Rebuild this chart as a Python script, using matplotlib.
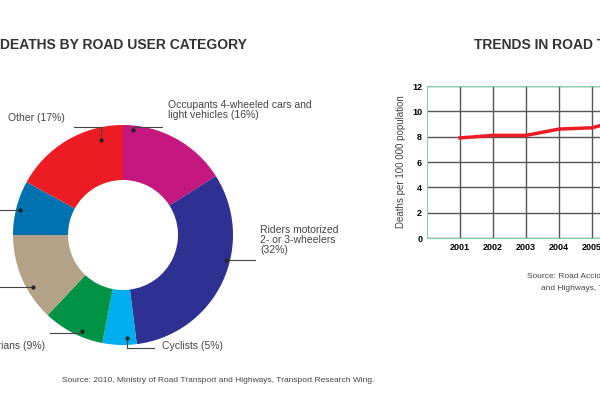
import matplotlib
matplotlib.use("Agg")
import matplotlib.pyplot as plt

plt.rcParams['font.family'] = ['Liberation Sans', 'DejaVu Sans']

# Pie data (clockwise from top)
categories = ["Occupants 4-wheeled cars and\nlight vehicles (16%)", "Riders motorized\n2- or 3-wheelers\n(32%)",
              "Cyclists (5%)", "Pedestrians (9%)", "Heavy vehicles (13%)", "Buses (8%)", "Other (17%)"]
shares = [16, 32, 5, 9, 13, 8, 17]
colors = ["#c4177f", "#2e3192", "#00aeef", "#009245", "#b3a288", "#0072b0", "#ed1c24"]

# Line data
years = [2001, 2002, 2003, 2004, 2005, 2006]
rates = [7.9, 8.1, 8.1, 8.6, 8.7, 9.4]
yticks = [0, 2, 4, 6, 8, 10, 12]

W, H = 600, 400
fig = plt.figure(figsize=(6, 4), dpi=100)
fig.patch.set_facecolor("white")

def fx(x): return x / W
def fy(y): return 1 - y / H

# Pie
axp = fig.add_axes([fx(-14.5), fy(372.5), 275 / W, 275 / H])
axp.pie(shares, colors=colors, startangle=90, counterclock=False,
        wedgeprops=dict(width=0.5, edgecolor="white", linewidth=0))
axp.set_aspect("equal")

fig.text(fx(0), fy(45), "DEATHS BY ROAD USER CATEGORY", fontsize=10, fontweight="bold",
         color="#333333", va="center", ha="left")
fig.text(fx(474), fy(45), "TRENDS IN ROAD TRAFFIC DEATHS", fontsize=10, fontweight="bold",
         color="#333333", va="center", ha="left")

tc = "#444444"
def leader(pts):
    xs = [fx(p[0]) for p in pts]; ys = [fy(p[1]) for p in pts]
    fig.add_artist(plt.Line2D(xs, ys, transform=fig.transFigure, color="#444444", lw=0.8))
    fig.add_artist(plt.Line2D([xs[0]], [ys[0]], transform=fig.transFigure, marker="o",
                              ms=2, color="#222222", lw=0))

fs = 7.5
fig.text(fx(168), fy(110), categories[0], fontsize=fs, color=tc, va="center", ha="left", linespacing=1.0)
leader([(133, 130), (133, 127), (162, 127)])
fig.text(fx(8), fy(118), categories[6], fontsize=fs, color=tc, va="center", ha="left")
leader([(101, 140), (101, 127), (74, 127)])
fig.text(fx(260), fy(240), categories[1], fontsize=fs, color=tc, va="center", ha="left", linespacing=1.0)
leader([(226, 260), (255, 260)])
fig.text(fx(162), fy(346), categories[2], fontsize=fs, color=tc, va="center", ha="left")
leader([(127, 338), (127, 348), (154, 348)])
fig.text(fx(45), fy(346), categories[3], fontsize=fs, color=tc, va="center", ha="right")
leader([(82, 331), (82, 333), (50, 333)])
fig.text(fx(-5), fy(287), categories[4], fontsize=fs, color=tc, va="center", ha="right")
leader([(33, 287), (0, 287)])
fig.text(fx(-5), fy(210), categories[5], fontsize=fs, color=tc, va="center", ha="right")
leader([(20, 210), (0, 210)])

fig.text(fx(218), fy(380), "Source: 2010, Ministry of Road Transport and Highways, Transport Research Wing.",
         fontsize=6, color=tc, ha="center", va="center")

# Line chart
axl = fig.add_axes([fx(427), fy(238), 330 / W, 152 / H])
axl.plot(years, rates, color="#ed1c24", lw=2.5)
axl.set_xlim(2000, 2010)
axl.set_ylim(0, 12)
axl.set_yticks(yticks)
axl.set_xticks(years)
axl.grid(True, color="#555555", lw=1)
axl.set_axisbelow(True)
for s in axl.spines.values():
    s.set_color("#7fd3a8")
axl.tick_params(length=0, labelsize=6.5)
for t in axl.get_xticklabels() + axl.get_yticklabels():
    t.set_fontweight("bold")
axl.set_ylabel("Deaths per 100 000 population", fontsize=7, color=tc)
fig.text(fx(527), fy(277), "Source: Road Accidents in India, Ministry of Road Transport", fontsize=6,
         color=tc, ha="left", va="center")
fig.text(fx(541), fy(288), "and Highways, Transport Research Wing.", fontsize=6,
         color=tc, ha="left", va="center")

fig.savefig("out.png", dpi=100)
